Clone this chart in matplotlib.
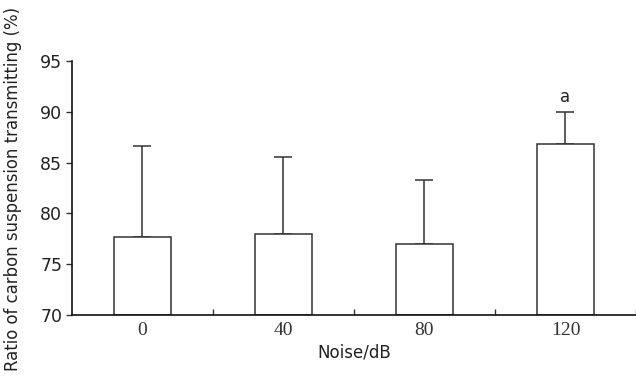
import matplotlib.pyplot as plt
import numpy as np

# data
categories = ['0', '40', '80', '120']
means = [77.7, 78.0, 77.0, 86.8]
errs = [8.9, 7.6, 6.25, 3.2]
marks = ['', '', '', 'a']

edge = '#333333'

fig = plt.figure(figsize=(6.36, 3.76), dpi=100)
ax = fig.add_axes([0.1132, 0.1622, 0.8868, 0.6756])

x = np.arange(len(categories))
ax.bar(x, np.array(means) - 70, bottom=70, width=0.41, color='white',
	   edgecolor=edge, linewidth=1.1, zorder=2)
ax.errorbar(x, means, yerr=[np.zeros(len(errs)), errs], fmt='none',
			ecolor=edge, elinewidth=1.1, capsize=6.5, capthick=1.1, zorder=1)

for i, m in enumerate(marks):
	if m:
		ax.text(x[i], means[i] + errs[i] + 0.6, m, ha='center', va='bottom',
				fontsize=12, family='DejaVu Sans', color='#222222')

ax.set_xlim(-0.5, 3.5)
ax.set_ylim(70, 95)
ax.set_yticks([70, 75, 80, 85, 90, 95])

# tick labels under each bar, tick marks between the bars
ax.set_xticks(x + 0.5, minor=False)
ax.set_xticks(x, minor=True)
ax.set_xticklabels([])
ax.set_xticklabels(categories, minor=True, family='Liberation Serif', fontsize=14, color='#333333')
ax.tick_params(axis='x', which='major', direction='in', length=4, width=1, color=edge)
ax.tick_params(axis='x', which='minor', length=0, pad=5)
ax.tick_params(axis='y', direction='out', length=4, width=1, color=edge,
			   labelsize=12.5, labelcolor='#222222', pad=3)

for s in ['top', 'right']:
	ax.spines[s].set_visible(False)
for s in ['left', 'bottom']:
	ax.spines[s].set_color('#111111')
	ax.spines[s].set_linewidth(1.2)

ax.set_xlabel('Noise/dB', fontsize=12, color='#222222', labelpad=3)
ax.set_ylabel('Ratio of carbon suspension transmitting (%)', fontsize=11.9, color='#222222',
			  va='center')
ax.yaxis.set_label_coords(-0.104, 0.496)

plt.savefig('out.png', dpi=100)
